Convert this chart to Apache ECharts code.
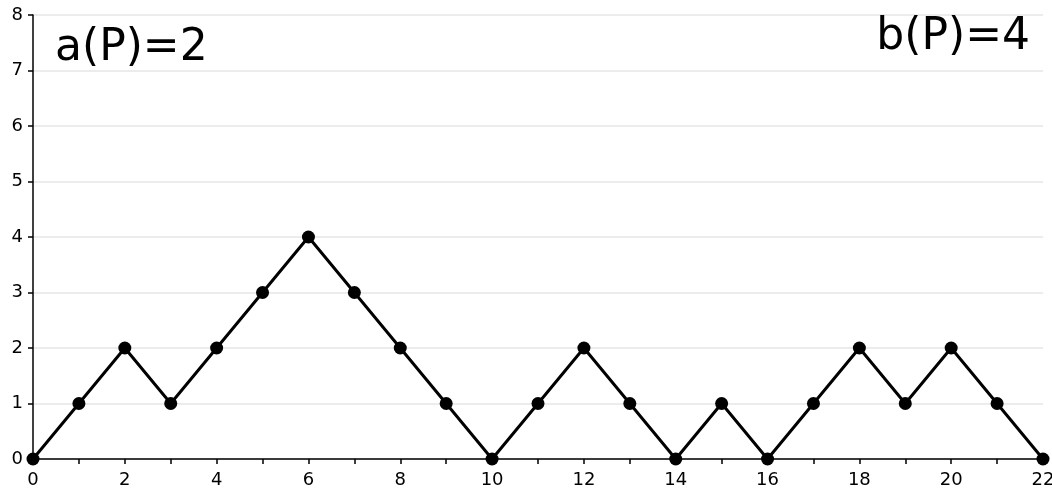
<!DOCTYPE html>
<html><head><meta charset="utf-8">
<script src="https://cdn.jsdelivr.net/npm/echarts@6/dist/echarts.min.js"></script>
<style>html,body{margin:0;padding:0;background:#fff}#c{width:1052px;height:488px}</style>
</head><body><div id="c"></div>
<script>
const xValues = [0,1,2,3,4,5,6,7,8,9,10,11,12,13,14,15,16,17,18,19,20,21,22];
const heights = [0,1,2,1,2,3,4,3,2,1,0,1,2,1,0,1,0,1,2,1,2,1,0];
const labelA = 'a(P)=2';
const labelB = 'b(P)=4';
const font = 'DejaVu Sans';
const chart = echarts.init(document.getElementById('c'));
const data = xValues.map((x,i)=>[x,heights[i]]);
const baseX = {type:'value', min:0, max:22, interval:1, gridIndex:0};
const baseY = {type:'value', min:0, max:8, interval:1, gridIndex:0};
chart.setOption({
  animation:false,
  grid:{left:33,right:9,top:15,bottom:29,containLabel:false,outerBoundsMode:'none'},
  xAxis:[
    Object.assign({}, baseX, {
      axisLine:{show:true,lineStyle:{color:'#000',width:1.5}},
      axisTick:{show:true,length:3,lineStyle:{color:'#000',width:1.5}},
      axisLabel:{color:'#000',fontFamily:font,fontSize:18,margin:12,formatter:v=>v%2===0?String(v):''},
      splitLine:{show:false}
    }),
    Object.assign({}, baseX, {
      axisLine:{show:false},
      axisTick:{show:true,inside:true,length:5,lineStyle:{color:'#000',width:1.5}},
      axisLabel:{show:false},
      splitLine:{show:false}
    })
  ],
  yAxis:[
    Object.assign({}, baseY, {
      axisLine:{show:true,lineStyle:{color:'#000',width:1.5}},
      axisTick:{show:true,length:3,lineStyle:{color:'#000',width:1.5}},
      axisLabel:{color:'#000',fontFamily:font,fontSize:18,margin:10},
      splitLine:{show:true,lineStyle:{color:'#e6e6e6',width:1.5}}
    }),
    Object.assign({}, baseY, {
      axisLine:{show:false},
      axisTick:{show:true,inside:true,length:5,lineStyle:{color:'#000',width:1.5}},
      axisLabel:{show:false},
      splitLine:{show:false}
    })
  ],
  series:[{
    type:'line', data:data, xAxisIndex:0, yAxisIndex:0,
    symbol:'circle', symbolSize:13,
    lineStyle:{color:'#000',width:3},
    itemStyle:{color:'#000'},
    clip:false, z:5
  }],
  graphic:[
    {type:'text', left:55, top:27, z:100, style:{text:labelA, font:'44px "'+font+'"', fill:'#000'}},
    {type:'text', right:22, top:16, z:100, style:{text:labelB, font:'44px "'+font+'"', fill:'#000'}}
  ]
});
</script></body></html>
